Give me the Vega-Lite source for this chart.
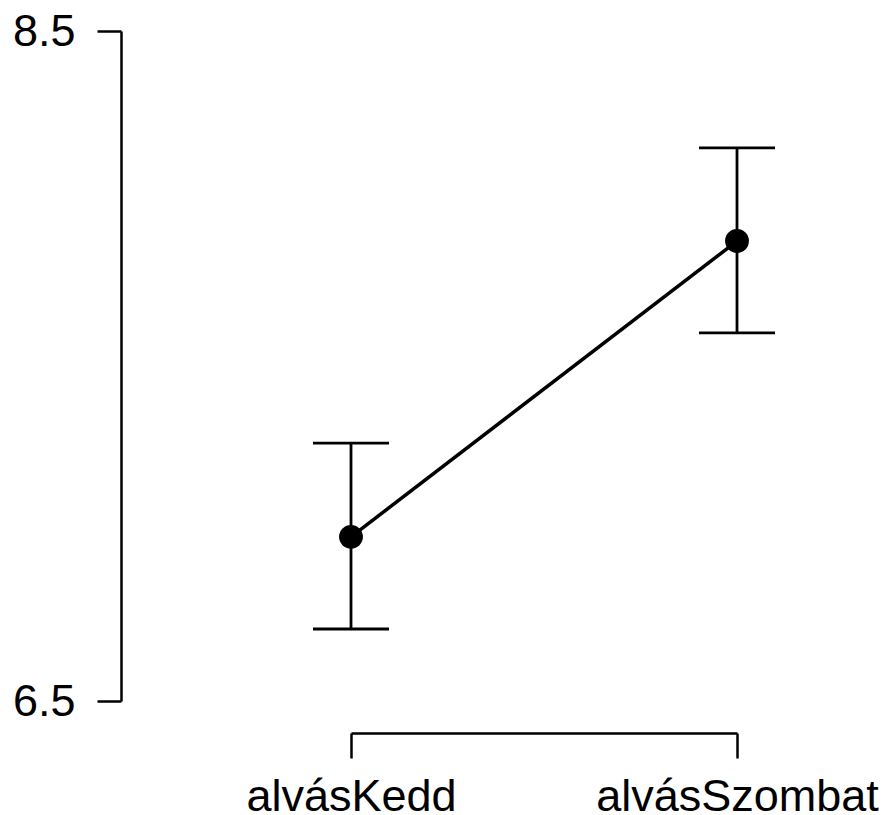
{
  "$schema": "https://vega.github.io/schema/vega-lite/v6.json",
  "width": 386,
  "height": 670,
  "autosize": "none",
  "padding": {"left": 351, "top": 31, "right": 151, "bottom": 114},
  "background": "white",
  "config": {
    "view": {"stroke": null},
    "font": "Liberation Sans"
  },
  "data": {
    "values": [
      {"cond": "alvásKedd", "mean": 6.990, "lo": 6.715, "hi": 7.270},
      {"cond": "alvásSzombat", "mean": 7.873, "lo": 7.599, "hi": 8.151}
    ]
  },
  "encoding": {
    "x": {
      "field": "cond",
      "type": "nominal",
      "sort": null,
      "scale": {"type": "point", "padding": 0},
      "axis": {
        "title": null,
        "labelAngle": 0,
        "labelLimit": 0,
        "labelOverlap": false,
        "grid": false,
        "offset": 32,
        "tickSize": 25,
        "tickWidth": 2.5,
        "domainWidth": 2.5,
        "domainColor": "black",
        "tickColor": "black",
        "labelColor": "black",
        "labelFontSize": 45,
        "labelFont": "Liberation Sans",
        "labelPadding": 16
      }
    }
  },
  "layer": [
    {
      "mark": {"type": "rule", "color": "black", "strokeWidth": 2.8},
      "encoding": {
        "y": {
          "field": "lo",
          "type": "quantitative",
          "scale": {"domain": [6.5, 8.5], "nice": false, "zero": false},
          "axis": {
            "title": null,
            "values": [6.5, 8.5],
            "format": ".1f",
            "grid": false,
            "offset": 230,
            "tickSize": 24,
            "tickWidth": 2.5,
            "domainWidth": 2.5,
            "domainColor": "black",
            "tickColor": "black",
            "labelColor": "black",
            "labelFontSize": 45,
            "labelFont": "Liberation Sans",
            "labelPadding": 22
          }
        },
        "y2": {"field": "hi"}
      }
    },
    {
      "mark": {"type": "tick", "color": "black", "size": 76, "thickness": 2.8, "opacity": 1},
      "encoding": {"y": {"field": "lo", "type": "quantitative"}}
    },
    {
      "mark": {"type": "tick", "color": "black", "size": 76, "thickness": 2.8, "opacity": 1},
      "encoding": {"y": {"field": "hi", "type": "quantitative"}}
    },
    {
      "mark": {"type": "line", "color": "black", "strokeWidth": 3.5},
      "encoding": {"y": {"field": "mean", "type": "quantitative"}}
    },
    {
      "mark": {"type": "point", "filled": true, "color": "black", "size": 570, "opacity": 1},
      "encoding": {"y": {"field": "mean", "type": "quantitative"}}
    }
  ]
}
